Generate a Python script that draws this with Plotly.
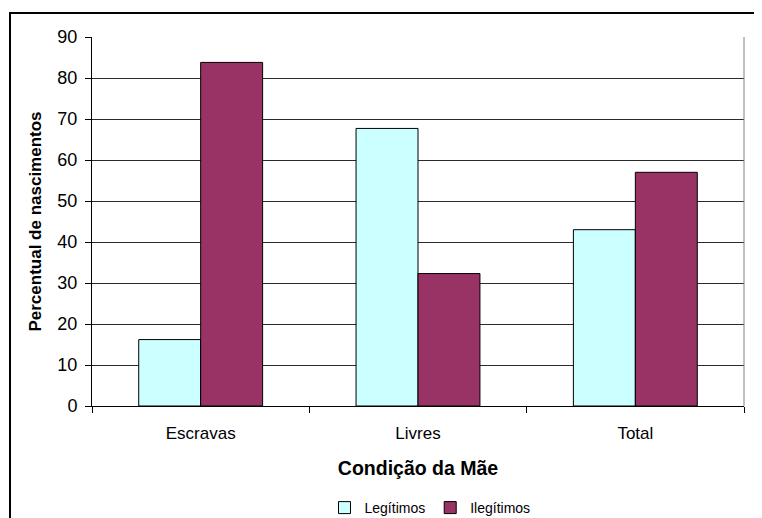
import plotly.graph_objects as go

categories = ["Escravas", "Livres", "Total"]
legitimos = [16.2, 67.7, 43.0]
ilegitimos = [83.8, 32.3, 57.0]
y_ticks = [0, 10, 20, 30, 40, 50, 60, 70, 80, 90]

FONT = "Liberation Sans, Arial, sans-serif"

fig = go.Figure()
fig.add_trace(go.Bar(x=categories, y=legitimos, name="Legítimos",
                     marker=dict(color="#CCFFFF", line=dict(color="#000000", width=1))))
fig.add_trace(go.Bar(x=categories, y=ilegitimos, name="Ilegítimos",
                     marker=dict(color="#993366", line=dict(color="#000000", width=1))))

# page body has an 8px margin, so work in screen coords minus 8
OFF = 8
W, H = 762 - OFF, 518 - OFF
L, T = 92 - OFF, 37 - OFF
R = W - (744 - OFF)
B = H - (406 - OFF)
pw, ph = W - L - R, H - T - B

def px(x):
    return (x - OFF - L) / pw

def py(y):
    return (H - B - (y - OFF)) / ph

fig.update_layout(
    width=W, height=H,
    margin=dict(l=L, r=R, t=T, b=B, pad=0, autoexpand=False),
    paper_bgcolor="white", plot_bgcolor="white",
    barmode="group", bargap=0.43, bargroupgap=0,
    font=dict(family=FONT, color="#000000"),
    showlegend=True,
    legend=dict(orientation="h", xref="paper", x=px(430), yref="container",
                y=(H - (508 - OFF)) / H, xanchor="center", yanchor="middle",
                font=dict(size=14, family=FONT), itemwidth=30, tracegroupgap=0,
                bgcolor="rgba(0,0,0,0)"),
    xaxis=dict(
        title=dict(text="<b>Condição da Mãe</b>", font=dict(size=19.5, family=FONT), standoff=18),
        tickfont=dict(size=17, family=FONT), ticklabelstandoff=12,
        showline=True, linecolor="#000000", linewidth=1,
        ticks="outside", tickson="boundaries", ticklen=6, tickcolor="#000000",
        showgrid=False, zeroline=False, automargin=False,
    ),
    yaxis=dict(
        title=dict(text="<b>Percentual de nascimentos</b>", font=dict(size=17, family=FONT), standoff=11),
        range=[0, 90], tickvals=y_ticks, ticktext=[str(v) for v in y_ticks],
        tickfont=dict(size=18, family=FONT), ticklabelstandoff=4,
        showline=True, linecolor="#000000", linewidth=1,
        ticks="outside", ticklen=6, tickcolor="#000000",
        showgrid=True, gridcolor="#2b2b2b", gridwidth=1, zeroline=False, automargin=False,
    ),
    shapes=[
        dict(type="line", xref="paper", yref="paper", x0=1, x1=1, y0=0, y1=1,
             line=dict(color="#808080", width=1)),
        dict(type="rect", xref="paper", yref="paper",
             x0=px(10), x1=px(775), y0=py(530), y1=py(13),
             line=dict(color="#000000", width=2), fillcolor="rgba(0,0,0,0)", layer="below"),
    ],
)

fig.write_html("out.html")
